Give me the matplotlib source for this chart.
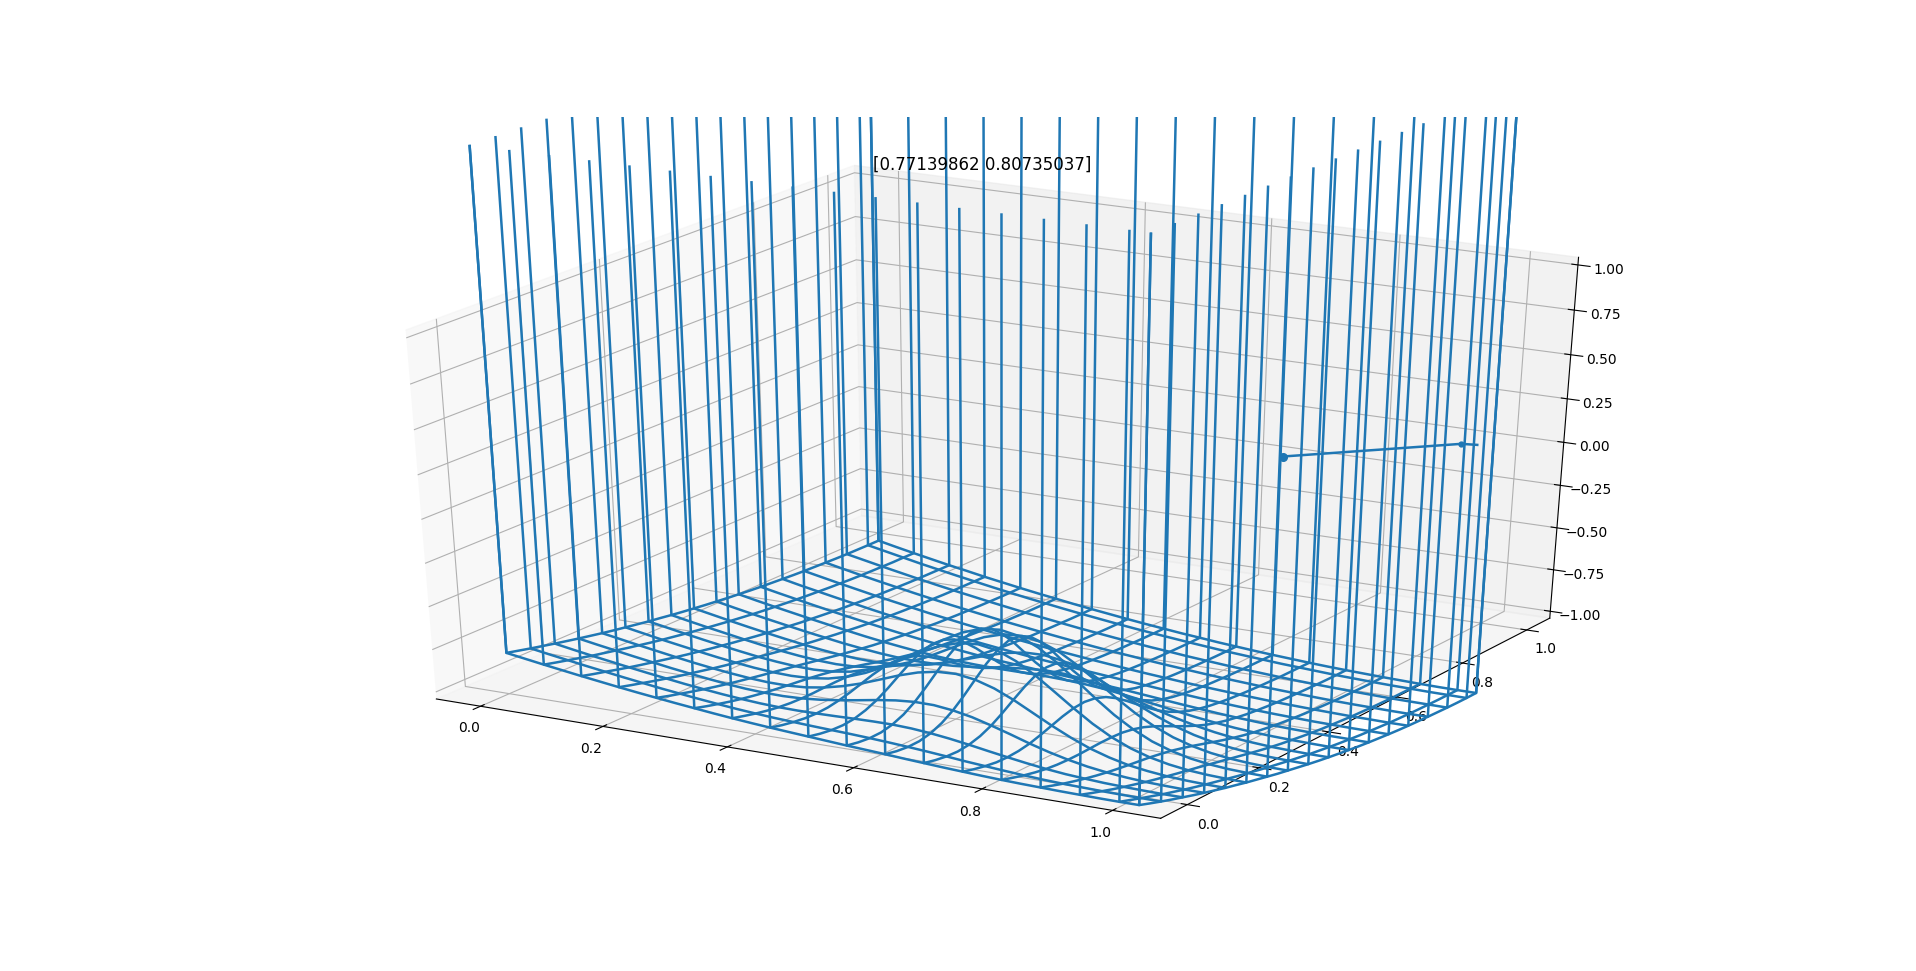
import matplotlib
matplotlib.use('Agg')
import matplotlib.pyplot as plt

TITLE = '[0.77139862 0.80735037]'
grid = [0.0000, 0.0303, 0.0606, 0.0909, 0.1212, 0.1515, 0.1818, 0.2121, 0.2424, 0.2727, 0.3030, 0.3333,
        0.3636, 0.3939, 0.4242, 0.4545, 0.4848, 0.5152, 0.5455, 0.5758, 0.6061, 0.6364, 0.6667, 0.6970,
        0.7273, 0.7576, 0.7879, 0.8182, 0.8485, 0.8788, 0.9091, 0.9394, 0.9697, 1.0000]
drawn_lines = [0, 2, 4, 6, 8, 10, 12, 14, 16, 18, 20, 22, 24, 26, 28, 30, 32, 33]
wall_top_z = 1.98
path_x = [0.7714, 0.953, 0.975]
path_y = [0.8074, 0.994, 1.0]
path_z = [0.0, 0.0, 0.0]

# surface depth below z = 0, in thousandths; one row per grid value of y
depth = [
[800,817,834,850,866,881,896,910,923,936,948,960,971,981,990,998,1006,1014,1022,1029,1036,1044,1051,1058,1064,1070,1075,1079,1082,1085,1087,1089,1090,1090],
[817,835,852,869,885,900,915,929,943,956,968,979,989,998,1007,1014,1021,1028,1035,1042,1050,1058,1066,1074,1082,1089,1095,1100,1104,1107,1110,1111,1112,1113],
[834,852,869,886,902,918,933,948,961,974,986,997,1006,1014,1020,1026,1031,1036,1042,1049,1057,1066,1076,1087,1096,1105,1113,1120,1125,1128,1131,1133,1134,1135],
[850,869,886,903,920,936,951,966,979,992,1003,1012,1020,1025,1029,1032,1034,1036,1040,1046,1055,1066,1079,1092,1106,1118,1128,1137,1143,1148,1152,1154,1155,1156],
[866,885,903,920,937,953,968,983,996,1008,1018,1026,1031,1033,1032,1030,1027,1025,1025,1030,1040,1054,1071,1090,1108,1125,1140,1152,1160,1167,1171,1174,1176,1176],
[881,900,918,936,953,969,985,999,1012,1023,1031,1036,1038,1035,1028,1018,1008,1001,997,1000,1011,1029,1052,1078,1103,1127,1147,1163,1175,1184,1189,1193,1195,1196],
[896,915,933,951,968,985,1000,1014,1027,1037,1043,1045,1041,1031,1016,998,979,963,954,955,968,990,1021,1055,1091,1123,1150,1172,1188,1199,1207,1211,1214,1215],
[910,929,948,966,983,1000,1015,1029,1041,1049,1053,1050,1041,1023,999,970,940,915,899,898,912,940,979,1025,1071,1114,1150,1178,1199,1213,1223,1228,1232,1233],
[924,943,962,980,998,1015,1030,1043,1054,1061,1062,1055,1038,1012,978,937,895,860,838,833,849,883,932,990,1048,1101,1147,1182,1209,1226,1238,1245,1249,1251],
[937,956,976,994,1012,1028,1044,1057,1067,1072,1070,1059,1036,1002,957,905,852,807,778,771,788,829,887,955,1025,1089,1144,1187,1218,1239,1253,1261,1265,1267],
[949,969,989,1007,1025,1042,1057,1070,1079,1083,1079,1064,1036,995,942,880,818,765,730,720,739,785,851,929,1008,1082,1144,1192,1227,1251,1267,1276,1281,1284],
[961,981,1001,1020,1038,1055,1070,1083,1092,1095,1089,1072,1041,995,937,869,801,743,704,693,713,762,833,917,1002,1082,1148,1201,1239,1265,1281,1291,1297,1299],
[973,993,1013,1032,1050,1067,1083,1095,1104,1107,1101,1084,1052,1005,945,876,806,746,706,695,715,765,838,923,1011,1092,1160,1214,1252,1279,1296,1306,1311,1314],
[983,1004,1024,1043,1062,1079,1095,1108,1117,1121,1116,1099,1069,1025,967,901,834,777,739,729,748,797,867,950,1035,1113,1179,1231,1269,1294,1311,1320,1326,1329],
[994,1015,1035,1054,1073,1091,1107,1120,1130,1135,1132,1118,1093,1053,1002,943,884,833,799,791,810,854,919,995,1073,1145,1205,1253,1287,1311,1326,1335,1340,1342],
[1004,1025,1045,1065,1084,1101,1118,1132,1143,1150,1149,1140,1120,1088,1046,998,948,906,879,873,890,930,987,1053,1121,1183,1236,1277,1307,1328,1341,1349,1353,1355],
[1013,1034,1055,1075,1094,1112,1129,1144,1156,1164,1167,1162,1149,1126,1095,1058,1020,988,968,965,981,1015,1062,1117,1173,1224,1268,1302,1327,1344,1356,1362,1366,1368],
[1022,1043,1064,1084,1103,1122,1139,1155,1168,1178,1184,1184,1177,1163,1142,1117,1091,1070,1057,1057,1071,1099,1137,1180,1224,1265,1299,1327,1347,1360,1370,1375,1378,1380],
[1030,1052,1073,1093,1112,1131,1148,1165,1179,1191,1200,1204,1203,1197,1186,1171,1156,1144,1137,1140,1153,1175,1205,1238,1272,1302,1328,1349,1365,1375,1383,1387,1390,1391],
[1038,1060,1081,1101,1121,1139,1157,1174,1190,1203,1214,1222,1226,1226,1223,1217,1211,1206,1205,1210,1222,1239,1262,1287,1311,1334,1354,1369,1381,1389,1395,1398,1400,1401],
[1045,1067,1088,1108,1128,1147,1165,1183,1199,1213,1226,1237,1245,1250,1253,1253,1253,1254,1258,1265,1275,1290,1307,1325,1343,1360,1374,1386,1395,1401,1405,1408,1410,1411],
[1052,1074,1095,1116,1135,1155,1173,1191,1207,1223,1237,1249,1260,1268,1275,1281,1286,1291,1297,1305,1315,1327,1341,1355,1368,1380,1391,1400,1406,1412,1415,1418,1419,1420],
[1058,1080,1101,1122,1142,1161,1180,1198,1215,1231,1246,1259,1272,1283,1292,1301,1309,1317,1325,1334,1343,1354,1365,1376,1386,1396,1404,1411,1417,1421,1424,1426,1427,1428],
[1063,1086,1107,1128,1148,1167,1186,1204,1221,1238,1253,1268,1281,1294,1305,1316,1325,1335,1344,1353,1363,1373,1382,1391,1400,1408,1415,1420,1425,1429,1432,1433,1435,1435],
[1068,1091,1112,1133,1153,1173,1192,1210,1227,1244,1260,1275,1289,1302,1315,1326,1337,1347,1357,1367,1376,1386,1394,1403,1410,1417,1423,1428,1432,1436,1438,1440,1441,1442],
[1073,1095,1117,1138,1158,1178,1197,1215,1233,1249,1265,1281,1295,1309,1322,1334,1346,1356,1367,1377,1386,1395,1403,1411,1418,1424,1430,1435,1439,1442,1444,1446,1447,1448],
[1077,1099,1121,1142,1163,1182,1201,1220,1237,1254,1270,1286,1300,1314,1328,1340,1352,1363,1374,1384,1393,1402,1410,1417,1424,1430,1436,1440,1444,1447,1450,1451,1453,1453],
[1080,1103,1125,1146,1166,1186,1205,1223,1241,1258,1274,1290,1305,1319,1332,1345,1357,1368,1379,1389,1398,1407,1415,1422,1429,1435,1440,1445,1449,1452,1454,1456,1457,1457],
[1083,1106,1128,1149,1169,1189,1208,1227,1244,1261,1278,1293,1308,1322,1336,1349,1361,1372,1383,1393,1402,1411,1419,1426,1433,1439,1444,1449,1453,1456,1458,1460,1461,1461],
[1086,1108,1130,1151,1172,1192,1211,1229,1247,1264,1280,1296,1311,1325,1339,1352,1364,1375,1386,1396,1406,1414,1422,1430,1436,1442,1447,1452,1456,1459,1461,1463,1464,1464],
[1088,1110,1132,1153,1174,1194,1213,1231,1249,1266,1283,1298,1313,1328,1341,1354,1366,1378,1388,1399,1408,1417,1425,1432,1439,1445,1450,1454,1458,1461,1464,1465,1466,1467],
[1089,1112,1134,1155,1175,1195,1214,1233,1251,1268,1284,1300,1315,1329,1343,1356,1368,1379,1390,1400,1410,1418,1426,1434,1440,1446,1452,1456,1460,1463,1465,1467,1468,1469],
[1090,1112,1134,1156,1176,1196,1215,1234,1252,1269,1285,1301,1316,1330,1344,1357,1369,1380,1391,1401,1411,1419,1427,1435,1441,1447,1453,1457,1461,1464,1466,1468,1469,1470],
[1090,1113,1135,1156,1177,1196,1216,1234,1252,1269,1285,1301,1316,1330,1344,1357,1369,1381,1391,1402,1411,1420,1428,1435,1442,1448,1453,1457,1461,1464,1467,1469,1470,1470],
]

BLUE = '#1f77b4'
LW = 1.8

fig = plt.figure(figsize=(19.16, 9.71), dpi=100)
ax = fig.add_subplot(projection='3d')
ax.apply_aspect = lambda position=None: None   # let the 3D box fill the whole subplot
ax.view_init(30, -60)
ax.set_box_aspect((1, 1, 1), zoom=0.9467)
ax.set_title(TITLE, y=0.9975)

n = len(grid)
surface = [[-v / 1000 for v in row] for row in depth]
first, last = grid[0], grid[-1]
for k in drawn_lines:
    # a line of constant y, then a line of constant x, each ending in a wall that rises at both edges
    ax.plot([first] + grid + [last], [grid[k]] * (n + 2),
            [wall_top_z] + surface[k] + [wall_top_z], color=BLUE, lw=LW)
    ax.plot([grid[k]] * (n + 2), [first] + grid + [last],
            [wall_top_z] + [row[k] for row in surface] + [wall_top_z], color=BLUE, lw=LW)

ax.plot(path_x, path_y, path_z, color=BLUE, lw=LW)
ax.plot(path_x[:1], path_y[:1], path_z[:1], 'o', color=BLUE, ms=5.5)
ax.plot(path_x[1:2], path_y[1:2], path_z[1:2], 'o', color=BLUE, ms=3.5)

ax.set_xlim(-0.05, 1.05, view_margin=1 / 48)
ax.set_ylim(-0.05, 1.05, view_margin=1 / 48)
ax.set_zlim(-1, 1, view_margin=1 / 48)

fig.savefig('out.png')
